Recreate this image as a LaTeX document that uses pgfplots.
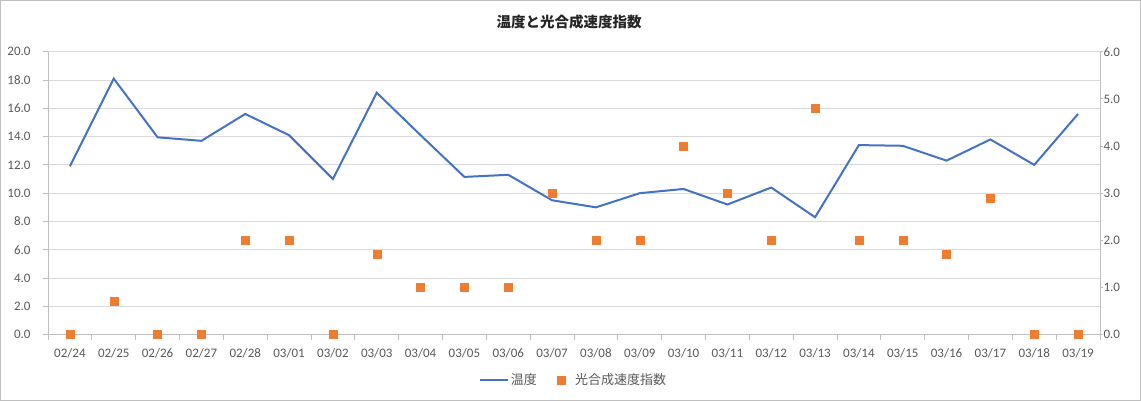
\documentclass[border=0pt]{standalone}
\usepackage{pgfplots}
\pgfplotsset{compat=1.18}
\usepackage{fontspec}
\setmainfont{Carlito}
\newfontfamily\cjk{Noto Sans CJK JP}
\definecolor{tblue}{HTML}{4472C4}
\definecolor{torange}{HTML}{ED7D31}
\definecolor{tgray}{HTML}{595959}
\definecolor{tgrid}{HTML}{D9D9D9}
\definecolor{tframe}{HTML}{BFBFBF}
\pgfplotstableread{
x temp idx
0 11.9 0
1 18.1 0.7
2 13.95 0
3 13.7 0
4 15.6 2
5 14.1 2
6 11.0 0
7 17.1 1.7
8 14.1 1
9 11.15 1
10 11.3 1
11 9.5 3
12 9.0 2
13 10.0 2
14 10.3 4
15 9.2 3
16 10.4 2
17 8.3 4.8
18 13.4 2
19 13.35 2
20 12.3 1.7
21 13.8 2.9
22 12.0 0
23 15.6 0
}\datatable
\begin{document}
\begin{tikzpicture}[x=1pt,y=1pt]
\useasboundingbox (0,0) rectangle (1141,401);
\draw[tframe, line width=1pt] (0.5,0.5) rectangle (1140.5,400.5);
\node[font=\cjk\bfseries\fontsize{14.5}{16}\selectfont, text=black!85] at (569,379.3) {温度と光合成速度指数};
\begin{axis}[
  at={(48pt,66.3pt)}, anchor=south west,
  width=1052pt, height=283pt, scale only axis,
  xmin=-0.5, xmax=23.5, ymin=0, ymax=20,
  axis x line*=bottom, axis y line*=left,
  axis line style={-, tframe, line width=0.8pt},
  xtick={0,...,23},
  xticklabels={02/24,02/25,02/26,02/27,02/28,03/01,03/02,03/03,03/04,03/05,03/06,03/07,03/08,03/09,03/10,03/11,03/12,03/13,03/14,03/15,03/16,03/17,03/18,03/19},
  minor xtick={-0.5,0.5,...,23.5},
  major x tick style={draw=none},
  minor x tick style={tframe, line width=0.8pt},
  major y tick style={tframe, line width=0.8pt},
  tick align=outside,
  major tick length=5pt, minor tick length=5pt,
  ytick={0,2,...,20},
  ymajorgrids, grid style={tgrid, line width=0.8pt},
  /pgf/number format/assume math mode=true,
  yticklabel style={/pgf/number format/.cd, fixed, fixed zerofill, precision=1, /tikz/.cd, xshift=-9pt},
  xticklabel style={yshift=-5pt},
  ticklabel style={font=\fontsize{13}{15}\selectfont, text=tgray},
]
\addplot[tblue, line width=2pt, no markers] table[x=x, y=temp] {\datatable};
\end{axis}
\begin{axis}[
  at={(48pt,66.3pt)}, anchor=south west,
  width=1052pt, height=283pt, scale only axis,
  xmin=-0.5, xmax=23.5, ymin=0, ymax=6,
  axis x line=none, axis y line*=right,
  axis line style={-, tframe, line width=0.8pt},
  ytick={0,1,...,6},
  tick align=outside, major tick length=3pt,
  major y tick style={tframe, line width=0.8pt},
  /pgf/number format/assume math mode=true,
  yticklabel style={/pgf/number format/.cd, fixed, fixed zerofill, precision=1, /tikz/.cd, xshift=-3pt},
  ticklabel style={font=\fontsize{13}{15}\selectfont, text=tgray},
  clip=false,
  legend style={at={(0.4995,-0.16)}, anchor=center, draw=none, fill=none,
    legend columns=2, font=\cjk\fontsize{13}{15}\selectfont, text=tgray,
    /tikz/every even column/.append style={column sep=18pt}},
]
\addlegendimage{tblue, line width=2pt, legend image code/.code={\draw (0pt,0pt) -- (28pt,0pt);}}
\addlegendentry{温度}
\addplot[only marks, mark=square*, mark size=4pt, color=torange,
  legend image code/.code={\draw plot[mark=square*, mark size=4pt] coordinates {(0pt,0pt)}; \path (12pt,0pt);}]
  table[x=x, y=idx] {\datatable};
\addlegendentry{光合成速度指数}
\end{axis}
\end{tikzpicture}
\end{document}
